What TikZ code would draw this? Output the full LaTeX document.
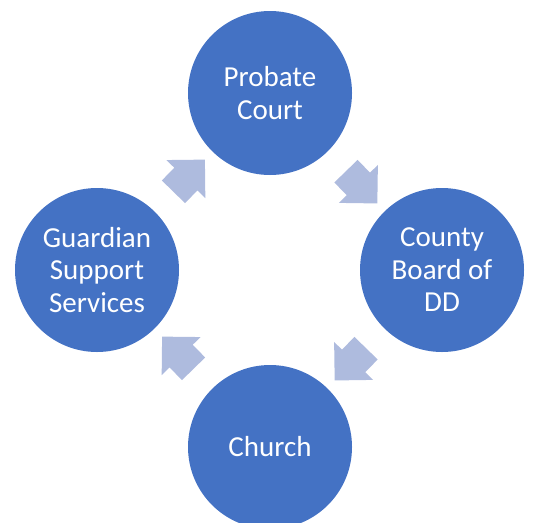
\documentclass[tikz,border=0pt]{standalone}
\usepackage{fontspec}
\setmainfont{Carlito}
\usetikzlibrary{shapes.arrows}
\definecolor{stageblue}{RGB}{68,114,196}
\definecolor{flowblue}{RGB}{174,187,222}
\tikzset{
  stage/.style={circle, fill=stageblue, text=white, minimum size=164pt,
    inner sep=0pt, align=center, font=\fontsize{29}{32.5}\selectfont},
  flow/.style={single arrow, fill=flowblue, minimum height=45pt,
    minimum width=0pt, inner xsep=0pt, inner ysep=16pt,
    single arrow head extend=11pt, sloped, allow upside down}
}
\begin{document}
\begin{tikzpicture}[x=1pt,y=-1pt]
\clip (0,0) rectangle (534,522);
\node[stage] (court) at (270,93) {Probate\\Court};
\node[stage] (board) at (442,270) {County\\Board of\\DD};
\node[stage] (church) at (270,447) {Church};
\node[stage] (guard) at (97,270) {Guardian\\Support\\Services};
\path (court) -- node[flow] {} (board);
\path (board) -- node[flow] {} (church);
\path (church) -- node[flow] {} (guard);
\path (guard) -- node[flow] {} (court);
\end{tikzpicture}
\end{document}
